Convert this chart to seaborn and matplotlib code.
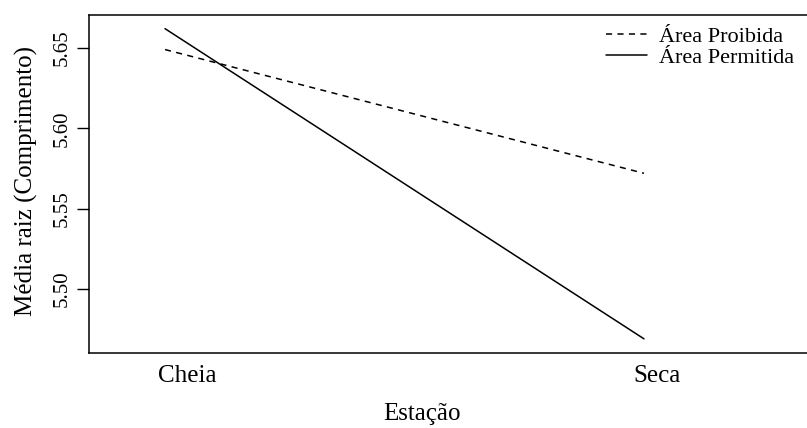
import matplotlib
matplotlib.use("Agg")
import matplotlib.pyplot as plt
import matplotlib.transforms as mtransforms
import seaborn as sns
import pandas as pd

# ---- data ----
estacoes = ["Cheia", "Seca"]
area_proibida = [5.649, 5.572]
area_permitida = [5.662, 5.469]
series = ["Área Proibida", "Área Permitida"]
yticks = [5.50, 5.55, 5.60, 5.65]
ytick_labels = ["5.50", "5.55", "5.60", "5.65"]

df = pd.DataFrame({
    "pos": [0, 1, 0, 1],
    "Estação": estacoes * 2,
    "valor": area_proibida + area_permitida,
    "Área": [series[0]] * 2 + [series[1]] * 2,
})

sns.set_theme(style="white")
plt.rcParams['font.family'] = ['Liberation Serif', 'DejaVu Serif']
plt.rcParams['text.color'] = 'black'

W, H = 807, 428
fig = plt.figure(figsize=(W / 100, H / 100), dpi=100)
ax = fig.add_axes([89 / W, (H - 353) / H, 726 / W, 338 / H])

sns.lineplot(data=df, x="pos", y="valor", hue="Área", style="Área",
             hue_order=series, style_order=series,
             palette=["black", "black"],
             dashes={series[0]: (4, 3.5), series[1]: ""},
             lw=1.1, legend=False, ax=ax)

ax.set_xlim(-0.1587, 1.357)
ax.set_ylim(5.4602, 5.6705)

for sp in ax.spines.values():
    sp.set_color("black")
    sp.set_linewidth(1.1)

# y axis
ax.set_yticks(yticks, labels=ytick_labels, rotation=90, va="center")
ax.tick_params(axis="y", left=True, length=8.6, width=1.0, color="black",
               direction="out", labelsize=15, pad=4, labelcolor="black")

# x axis: no tick marks, labels shifted slightly right as in reference
ax.set_xticks([0, 1], labels=estacoes)
ax.tick_params(axis="x", bottom=False, length=0, labelsize=18, pad=9,
               labelcolor="black")
offsets = [22, 13]
for lab, dx in zip(ax.get_xticklabels(), offsets):
    lab.set_transform(lab.get_transform() +
                      mtransforms.ScaledTranslation(dx / 100, 0, fig.dpi_scale_trans))

ax.set_xlabel("")
ax.set_ylabel("")
fig.text(422 / W, 1 - 414 / H, "Estação", ha="center", va="center", fontsize=18)
fig.text(26 / W, 1 - 181 / H, "Média raiz (Comprimento)", ha="center",
         va="center", rotation=90, fontsize=18)

handles = ax.get_lines()[:2]
leg = ax.legend(handles=handles, labels=series, loc="upper left",
                bbox_to_anchor=(606 / W, 1 - 26 / H),
                bbox_transform=fig.transFigure, frameon=False,
                fontsize=16, handlelength=1.85, handletextpad=0.55,
                labelspacing=0.05, borderpad=0, borderaxespad=0)

fig.savefig("out.png", dpi=100)
